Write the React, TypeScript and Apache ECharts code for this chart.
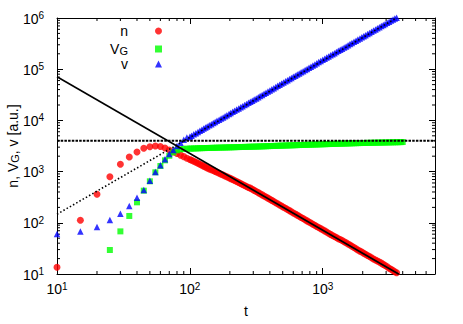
import React, { useEffect, useRef } from "react";
import * as echarts from "echarts";

// time steps
const tSteps = [
  10, 15, 20, 25, 30, 35, 40, 45, 50, 55, 60, 65, 70, 75, 80, 85, 90, 95,
  100, 103, 107, 111, 115, 119, 123, 127, 131, 135,
  140, 145, 150, 155, 160, 166, 172, 178, 184, 190,
  197, 203, 210, 217, 225, 233, 241, 249, 258, 267,
  276, 285, 295, 305, 316, 327, 338, 350, 362, 374,
  387, 400, 414, 428, 443, 458, 474, 490, 507, 525,
  543, 562, 581, 601, 622, 643, 665, 688, 712, 737,
  762, 788, 815, 843, 872, 902, 933, 965, 1000, 1035,
  1070, 1107, 1145, 1185, 1225, 1267, 1310, 1355, 1400, 1450,
  1500, 1552, 1605, 1660, 1720, 1780, 1840, 1905, 1970, 2035,
  2100, 2175, 2250, 2330, 2410, 2495, 2580, 2670, 2760, 2855,
  2950, 3055, 3160, 3270, 3380, 3490, 3600,
  3700, 3800, 3900, 4000,
];

const nValues = [
  13.5, 112, 360, 795, 1390, 1930, 2415, 2850, 3065, 3160, 3100, 2900, 2650, 2420, 2250, 2100, 1960, 1830,
  1720, 1660, 1590, 1520, 1450, 1390, 1330, 1280, 1230, 1180,
  1130, 1090, 1050, 1010, 970, 930, 890, 855, 820, 790,
  760, 730, 700, 670, 640, 612, 585, 560, 535, 512,
  490, 475, 452, 430, 408, 389, 370, 351, 334, 318,
  303, 288, 274, 260, 247, 235, 223, 212, 202, 192,
  182, 173, 164, 156, 148, 141, 134, 127, 121, 115,
  109, 104, 99, 94, 89.5, 85, 81, 77, 73, 69.5,
  66, 62.5, 59.5, 56.5, 54, 51.5, 49, 47, 45, 42.8,
  40.8, 38.6, 36.8, 34.8, 32.8, 31, 29.5, 28, 26.8, 25.4,
  24.3, 23, 21.9, 20.8, 19.7, 18.7, 17.9, 17.1, 16.3, 15.4,
  14.6, 13.8, 13.0, 12.4, 11.7, 11.1, 10.6,
  null, null, null, null,
];

const vgValues = [
  null, null, null, 29.4, 68, 136, 251, 424, 646, 969, 1285, 1660, 2040, 2380, 2600, 2720, 2780, 2800,
  2810, 2820, 2830, 2840, 2850, 2860, 2870, 2880, 2885, 2890,
  2900, 2905, 2915, 2920, 2930, 2935, 2945, 2950, 2960, 2965,
  2975, 2980, 2990, 2995, 3005, 3012, 3020, 3028, 3035, 3042,
  3050, 3058, 3065, 3072, 3080, 3090, 3100, 3110, 3120, 3130,
  3140, 3150, 3160, 3170, 3180, 3190, 3200, 3210, 3220, 3230,
  3240, 3250, 3260, 3270, 3280, 3290, 3300, 3310, 3320, 3330,
  3340, 3350, 3360, 3370, 3380, 3390, 3400, 3410, 3420, 3430,
  3440, 3450, 3460, 3470, 3480, 3490, 3500, 3510, 3520, 3530,
  3540, 3550, 3560, 3570, 3580, 3590, 3600, 3608, 3615, 3622,
  3630, 3638, 3645, 3652, 3660, 3668, 3675, 3682, 3690, 3698,
  3705, 3712, 3720, 3728, 3735, 3742, 3750,
  3758, 3765, 3772, 3780,
];

const vValues = [
  60.4, 68, 83, 113, 150, 213, 309, 437, 664, 982, 1330, 1740, 2210, 2640, 3160, 3670, 4200, 4620,
  4800, 5020, 5350, 5640, 5950, 6270, 6600, 6920, 7250, 7600,
  8000, 8450, 8900, 9350, 9800, 10350, 10900, 11450, 12000, 12600,
  13300, 13950, 14700, 15450, 16300, 17150, 18000, 18900, 19900, 20950,
  22000, 23100, 24300, 25600, 26900, 28300, 29800, 31400, 33100, 34800,
  36600, 38500, 40500, 42600, 44900, 47300, 49800, 52300, 55000, 57900,
  61000, 64200, 67500, 71000, 74800, 78600, 82500, 86800, 91300, 96100,
  101000, 106400, 112000, 118000, 124000, 130600, 137500, 144800, 152500, 160500,
  168500, 177300, 186500, 196000, 206000, 216800, 228000, 239800, 252000, 265500,
  279000, 293800, 309000, 325200, 342000, 360500, 379000, 399200, 420000, 441000,
  462000, 487000, 512000, 539000, 567000, 597000, 628000, 660000, 694000, 729000,
  766000, 806000, 848000, 891000, 935000, 975000, 1010000,
  null, null, null, null,
];

// guide lines
const nFitT = [10, 3750];
const nFitValues = [71400, 9.9];
const vFitT = [10, 3600];
const vFitValues = [147, 1004000];
const levelT = [10, 7000];
const levelValues = [4000, 4000];

// axes
const xMin = 10;
const xMax = 7000;
const yMin = 10;
const yMax = 1e6;
const xMinorTicks = [20, 30, 40, 50, 60, 70, 80, 90, 200, 300, 400, 500, 600, 700, 800, 900, 2000, 3000, 4000, 5000, 6000];
const yMinorTicks = [
  20, 30, 40, 50, 60, 70, 80, 90, 200, 300, 400, 500, 600, 700, 800, 900,
  2000, 3000, 4000, 5000, 6000, 7000, 8000, 9000, 20000, 30000, 40000, 50000, 60000, 70000, 80000, 90000,
  200000, 300000, 400000, 500000, 600000, 700000, 800000, 900000,
];

const FONT = "'Liberation Sans', Arial, Helvetica, sans-serif";

const pairs = (xs: number[], ys: (number | null)[]) =>
  xs.map((x, i) => [x, ys[i]]).filter((p) => p[1] != null);

const powLabel = (v: number) => {
  const l = Math.log10(v);
  const e = Math.round(l);
  if (Math.abs(l - e) > 1e-6) return "";
  return `{b|10}{s|${e}}`;
};

const labelRich = {
  b: { fontSize: 14, fontFamily: FONT, color: "#000", lineHeight: 15, verticalAlign: "bottom" },
  s: { fontSize: 10, fontFamily: FONT, color: "#000", lineHeight: 10, verticalAlign: "top", padding: [0, 0, 8, 0] },
};

const textRich = {
  m: { fontSize: 14, fontFamily: FONT, color: "#000", lineHeight: 14, verticalAlign: "top" },
  sub: { fontSize: 11, fontFamily: FONT, color: "#000", lineHeight: 11, verticalAlign: "bottom", padding: [6, 0, 0, 0] },
  gap: { width: 22, fontSize: 14, lineHeight: 14 },
};

export default function App() {
  const ref = useRef<HTMLDivElement>(null);
  useEffect(() => {
    if (!ref.current) return;
    const chart = echarts.init(ref.current, null, { renderer: "svg" });
    const axisCommon = {
      type: "log" as const,
      logBase: 10,
      axisLine: { show: true, onZero: false, lineStyle: { color: "#000", width: 1 } },
      axisTick: { show: true, inside: true, length: 6, lineStyle: { color: "#000", width: 1 } },
      splitLine: { show: false },
      minorTick: { show: false },
    };
    chart.setOption({
      animation: false,
      backgroundColor: "#fff",
      textStyle: { fontFamily: FONT },
      grid: { left: 57, right: 28, top: 18, bottom: 50, containLabel: false, outerBoundsMode: "none" },
      legend: {
        data: ["n", "VG", "v"],
        orient: "vertical",
        align: "right",
        right: 301,
        top: 24,
        padding: 0,
        itemGap: 1,
        itemWidth: 7,
        itemHeight: 7,
        selectedMode: false,
        formatter: (name: string) =>
          name === "VG" ? "{m|V}{sub|G}{gap| }" : `{m|${name}}{gap| }`,
        textStyle: { fontFamily: FONT, fontSize: 14, color: "#000", rich: textRich },
      },
      xAxis: [
        {
          ...axisCommon,
          min: xMin,
          max: xMax,
          position: "bottom",
          axisLabel: { formatter: powLabel, margin: 7, rich: labelRich, color: "#000" },
          name: "t",
          nameLocation: "middle",
          nameGap: 30,
          nameMoveOverlap: false,
          nameTextStyle: { fontSize: 14, fontFamily: FONT, color: "#000" },
        },
        {
          ...axisCommon,
          min: xMin,
          max: xMax,
          position: "top",
          axisLabel: { show: false },
        },
      ],
      yAxis: [
        {
          ...axisCommon,
          min: yMin,
          max: yMax,
          position: "left",
          axisLabel: { formatter: powLabel, margin: 13, rich: labelRich, color: "#000" },
          name: "{m|n, V}{sub|G}{m|, v [a.u.]}",
          nameLocation: "middle",
          nameGap: 37,
          nameMoveOverlap: false,
          nameTextStyle: { fontSize: 14, fontFamily: FONT, color: "#000", rich: textRich },
        },
        {
          ...axisCommon,
          min: yMin,
          max: yMax,
          position: "right",
          axisLabel: { show: false },
        },
      ],
      series: [
        {
          name: "n",
          type: "scatter",
          symbol: "circle",
          symbolSize: 7,
          clip: false,
          itemStyle: { color: "#ff0000" },
          data: pairs(tSteps, nValues),
        },
        {
          name: "VG",
          type: "scatter",
          symbol: "rect",
          symbolSize: 6,
          clip: false,
          itemStyle: { color: "#00ff00" },
          data: pairs(tSteps, vgValues),
        },
        {
          name: "v",
          type: "scatter",
          symbol: "triangle",
          symbolSize: 6.5,
          clip: false,
          itemStyle: { color: "#0000ff" },
          data: pairs(tSteps, vValues),
        },
        {
          name: "nfit",
          type: "line",
          showSymbol: false,
          symbol: "none",
          lineStyle: { color: "#000", width: 1.6 },
          data: pairs(nFitT, nFitValues),
          z: 5,
        },
        {
          name: "vfit",
          type: "line",
          showSymbol: false,
          symbol: "none",
          lineStyle: { color: "#000", width: 1.6, type: [1.5, 2.2] },
          data: pairs(vFitT, vFitValues),
          z: 5,
        },
        {
          name: "level",
          type: "line",
          showSymbol: false,
          symbol: "none",
          lineStyle: { color: "#000", width: 1.8, type: [2.5, 1.2] },
          data: pairs(levelT, levelValues),
          z: 5,
        },
        {
          name: "xminor",
          type: "custom",
          silent: true,
          clip: false,
          data: xMinorTicks.map((v) => [v, yMin]),
          renderItem: (params: any, api: any) => {
            const t = api.value(0);
            const pb = api.coord([t, yMin]);
            const pt = api.coord([t, yMax]);
            const st = { stroke: "#000", lineWidth: 1 };
            return {
              type: "group",
              children: [
                { type: "line", shape: { x1: pb[0], y1: pb[1], x2: pb[0], y2: pb[1] - 3 }, style: st },
                { type: "line", shape: { x1: pt[0], y1: pt[1], x2: pt[0], y2: pt[1] + 3 }, style: st },
              ],
            };
          },
        },
        {
          name: "yminor",
          type: "custom",
          silent: true,
          clip: false,
          data: yMinorTicks.map((v) => [xMin, v]),
          renderItem: (params: any, api: any) => {
            const v = api.value(1);
            const pl = api.coord([xMin, v]);
            const pr = api.coord([xMax, v]);
            const st = { stroke: "#000", lineWidth: 1 };
            return {
              type: "group",
              children: [
                { type: "line", shape: { x1: pl[0], y1: pl[1], x2: pl[0] + 3, y2: pl[1] }, style: st },
                { type: "line", shape: { x1: pr[0], y1: pr[1], x2: pr[0] - 3, y2: pr[1] }, style: st },
              ],
            };
          },
        },
      ],
    });
    return () => chart.dispose();
  }, []);
  return (
    <div
      ref={ref}
      style={{ position: "absolute", left: 0, top: 0, width: 463, height: 324 }}
    />
  );
}
